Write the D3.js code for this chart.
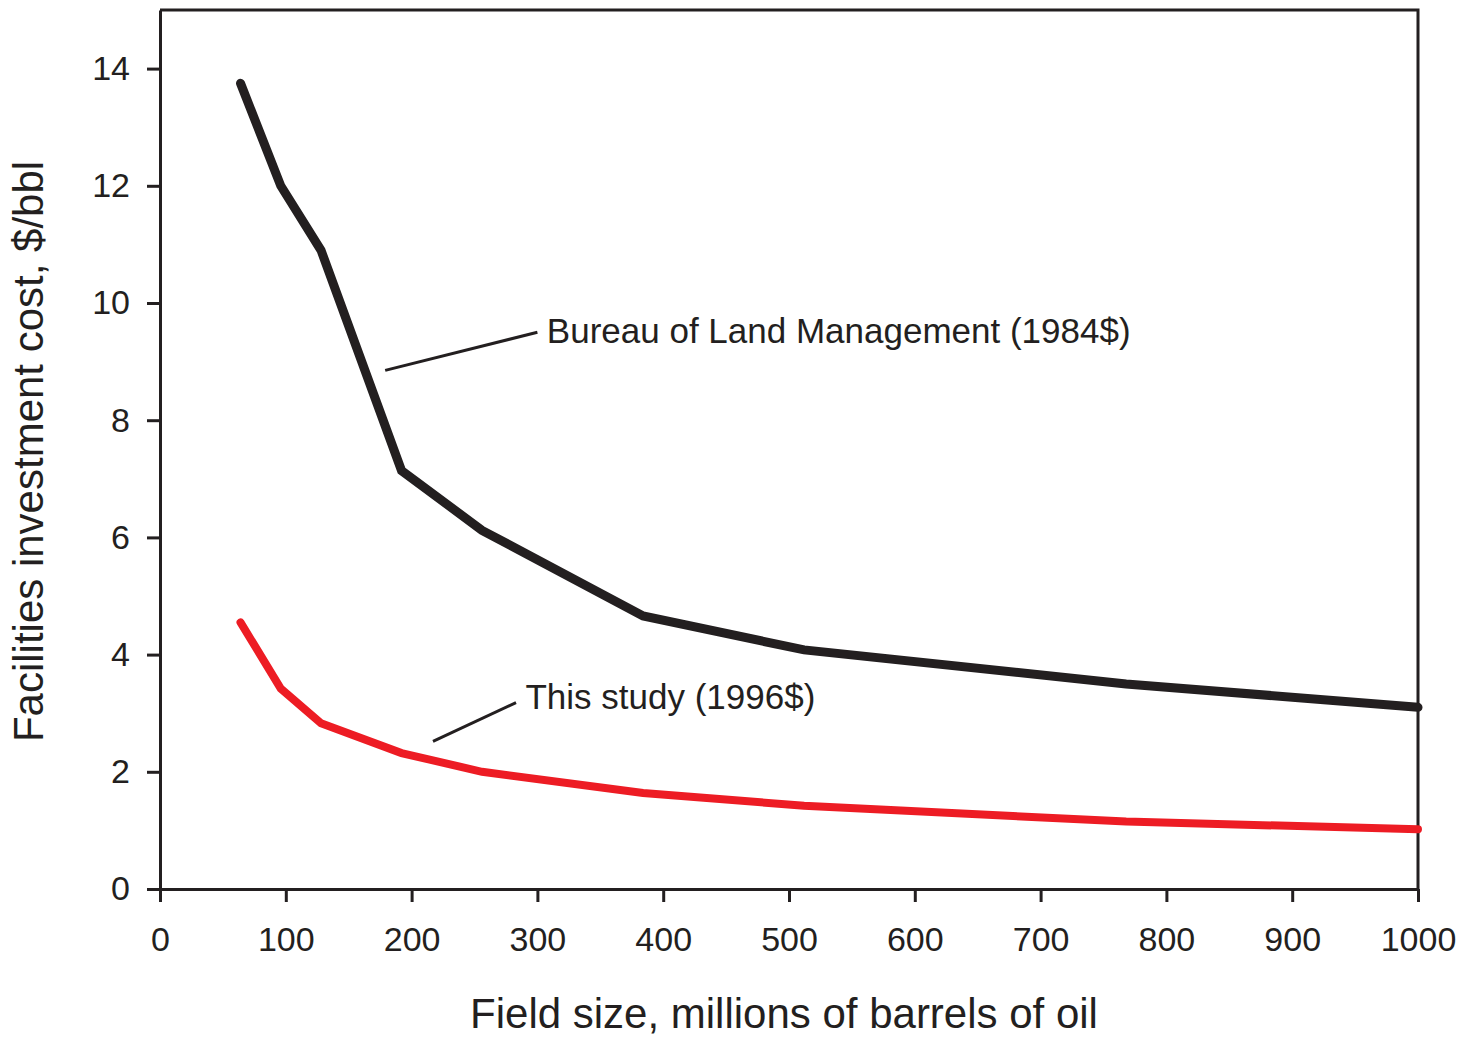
<!DOCTYPE html>
<meta charset="utf-8">
<style>
    body { margin: 0; background: #fff; }
    svg text { font-family: "Liberation Sans", Arial, Helvetica, sans-serif; fill: #231f20; }
</style>
<svg width="1476" height="1038"></svg>
<script src="https://cdn.jsdelivr.net/npm/d3@7"></script>
<script>
    // field size (millions of bbl) and cost per bbl
    var fieldSize = [64, 96, 128, 192, 256, 384, 512, 768, 1000];
    var blmCost   = [13.75, 12.0, 10.9, 7.14, 6.12, 4.66, 4.08, 3.5, 3.1];
    var studyCost = [4.55, 3.42, 2.83, 2.32, 2.0, 1.64, 1.42, 1.15, 1.02];
    var xTicks = [0, 100, 200, 300, 400, 500, 600, 700, 800, 900, 1000];
    var yTicks = [0, 2, 4, 6, 8, 10, 12, 14];

    var ink = "#231f20", red = "#ed1c24";

    var svg = d3.select("svg"),
        margin = {top: 10, left: 160, bottom: 149, right: 58},
        width = +svg.attr("width") - margin.left - margin.right,
        height = +svg.attr("height") - margin.top - margin.bottom;

    var x = d3.scaleLinear().domain([0, 1000]).range([0, width]);
    var y = d3.scaleLinear().domain([0, 15]).range([height, 0]);

    var g = svg.append("g")
        .attr("transform", "translate(" + margin.left + "," + margin.top + ")");

    // frame top / right
    g.append("path")
        .attr("d", "M0,0H" + width + "V" + height)
        .attr("fill", "none").attr("stroke", ink).attr("stroke-width", 3);

    var xAxis = g.append("g")
        .attr("transform", "translate(0," + height + ")")
        .call(d3.axisBottom(x).tickValues(xTicks).tickFormat(d3.format("d"))
            .tickSize(13).tickPadding(25).tickSizeOuter(0));
    var yAxis = g.append("g")
        .call(d3.axisLeft(y).tickValues(yTicks).tickSize(13).tickPadding(17).tickSizeOuter(0));

    [xAxis, yAxis].forEach(function(a) {
        a.select(".domain").attr("stroke", ink).attr("stroke-width", 3);
        a.selectAll(".tick line").attr("stroke", ink).attr("stroke-width", 3);
        a.selectAll(".tick text").attr("fill", ink)
            .style("font-size", "34px").style("font-family", "'Liberation Sans', Arial, sans-serif");
    });

    var line = d3.line()
        .x(function(d) { return x(d[0]); })
        .y(function(d) { return y(d[1]); });

    var series = [
        {vals: blmCost, color: ink, w: 9},
        {vals: studyCost, color: red, w: 8}
    ];
    series.forEach(function(s) {
        g.append("path")
            .datum(fieldSize.map(function(f, i) { return [f, s.vals[i]]; }))
            .attr("d", line)
            .attr("fill", "none")
            .attr("stroke", s.color)
            .attr("stroke-width", s.w)
            .attr("stroke-linejoin", "miter")
            .attr("stroke-linecap", "round");
    });

    // callouts
    var notes = [
        {text: "Bureau of Land Management (1984$)", from: [179, 8.85], to: [300, 9.5], at: [307.5, 9.31]},
        {text: "This study (1996$)", from: [217, 2.52], to: [283, 3.18], at: [290.5, 3.07]}
    ];
    notes.forEach(function(n) {
        g.append("line")
            .attr("x1", x(n.from[0])).attr("y1", y(n.from[1]))
            .attr("x2", x(n.to[0])).attr("y2", y(n.to[1]))
            .attr("stroke", ink).attr("stroke-width", 3);
        g.append("text")
            .attr("x", x(n.at[0])).attr("y", y(n.at[1]))
            .style("font-size", "35px")
            .text(n.text);
    });

    svg.append("text")
        .attr("x", margin.left + width / 2 - 5)
        .attr("y", 1028)
        .attr("text-anchor", "middle")
        .style("font-size", "42px")
        .text("Field size, millions of barrels of oil");

    svg.append("text")
        .attr("transform", "translate(43," + (margin.top + height / 2 + 2) + ") rotate(-90)")
        .attr("text-anchor", "middle")
        .style("font-size", "42px")
        .text("Facilities investment cost, $/bbl");
</script>
